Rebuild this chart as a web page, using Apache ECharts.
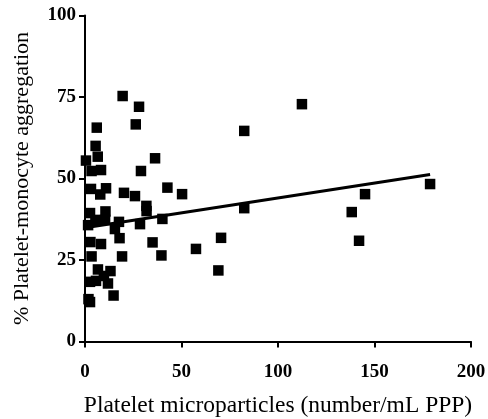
<!DOCTYPE html>
<html>
<head>
<meta charset="utf-8">
<script src="https://cdn.jsdelivr.net/npm/echarts@6/dist/echarts.min.js"></script>
<style>html,body{margin:0;padding:0;background:#fff}#c{width:488px;height:419px}</style>
</head>
<body>
<div id="c"></div>
<script>
var xValues = [19.5,28.0,6.1,26.3,5.5,6.6,0.5,36.3,3.4,8.3,29.0,3.1,10.9,7.9,20.2,25.9,42.7,50.3,2.6,10.6,31.8,31.9,5.4,10.4,1.6,15.5,17.6,28.5,40.1,17.9,2.8,8.3,35.0,3.4,19.2,39.6,57.5,70.5,69.1,82.5,82.5,112.4,178.8,145.1,138.2,142.0,6.7,13.2,9.8,2.6,5.7,11.9,14.8,1.8,2.6];
var yValues = [75.3,72.0,65.6,66.6,60.0,56.7,55.5,56.2,52.3,52.6,52.3,46.8,47.0,45.1,45.6,44.6,47.2,45.2,39.4,39.9,41.6,40.0,37.3,37.3,35.7,34.5,36.7,36.0,37.6,31.7,30.5,29.9,30.4,26.1,26.1,26.4,28.4,31.8,21.8,64.6,40.9,72.8,48.3,45.2,39.7,30.9,22.1,21.6,20.1,18.3,18.6,17.8,14.1,13.0,12.1];
var fitX = [0, 178.8];
var fitY = [34.9, 51.2];
var xTicks = [0, 50, 100, 150, 200];
var yTicks = [0, 25, 50, 75, 100];

var points = xValues.map(function(v, i){ return [v, yValues[i]]; });
var fit = fitX.map(function(v, i){ return [v, fitY[i]]; });
var serif = "'Liberation Serif','Times New Roman',serif";

var chart = echarts.init(document.getElementById('c'), null, {renderer:'canvas'});
chart.setOption({
  animation: false,
  backgroundColor: '#fff',
  grid: {left: 85, right: 17, top: 15.5, bottom: 77.5, containLabel: false, outerBoundsMode: 'none'},
  xAxis: {
    type: 'value', min: xTicks[0], max: xTicks[xTicks.length-1], interval: 50,
    splitLine: {show: false},
    axisLine: {show: true, onZero: false, lineStyle: {color: '#000', width: 2}},
    axisTick: {show: true, length: 6, lineStyle: {color: '#000', width: 2}},
    axisLabel: {color: '#000', fontFamily: serif, fontWeight: 'bold', fontSize: 19, margin: 21},
    name: 'Platelet microparticles (number/mL PPP)',
    nameLocation: 'middle', nameGap: 52,
    nameTextStyle: {fontFamily: serif, fontSize: 23.5, color: '#000'}
  },
  yAxis: {
    type: 'value', min: yTicks[0], max: yTicks[yTicks.length-1], interval: 25,
    splitLine: {show: false},
    axisLine: {show: true, onZero: false, lineStyle: {color: '#000', width: 2}},
    axisTick: {show: true, length: 6, lineStyle: {color: '#000', width: 2}},
    axisLabel: {color: '#000', fontFamily: serif, fontWeight: 'bold', fontSize: 19, margin: 9},
    name: '% Platelet-monocyte aggregation',
    nameLocation: 'middle', nameGap: 52,
    nameTextStyle: {fontFamily: serif, fontSize: 22, color: '#000'}
  },
  series: [
    {
      type: 'scatter', data: points, symbol: 'rect', symbolSize: 10.5,
      itemStyle: {color: '#000', opacity: 1}, z: 3
    },
    {
      type: 'line', data: fit, symbol: 'none',
      lineStyle: {color: '#000', width: 3}, z: 2
    }
  ]
});
</script>
</body>
</html>
